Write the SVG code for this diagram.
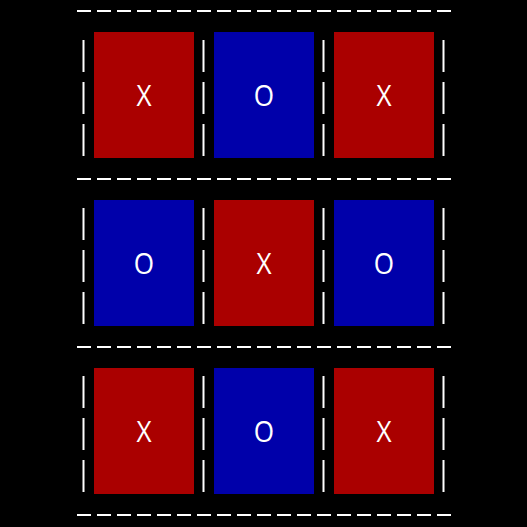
<svg xmlns="http://www.w3.org/2000/svg" width="527" height="527" viewBox="0 0 527 527">
<style>
.x{fill:#aa0000}
.o{fill:#0000aa}
.t{fill:#ffffff;font-family:"Open Sans","DejaVu Sans",sans-serif;font-size:30px;text-anchor:middle}
.h{stroke:#ffffff;stroke-width:2;stroke-dasharray:14 6;fill:none}
.v{stroke:#ffffff;stroke-width:2;stroke-dasharray:32 10;fill:none}
</style>
<rect width="527" height="527" fill="#000000"/>
<g id="grid">
<path class="h" d="M77 11H451M77 179H451M77 347H451M77 515H451"/>
<path class="v" d="M83.5 40V156M203.5 40V156M323.5 40V156M443.5 40V156M83.5 208V324M203.5 208V324M323.5 208V324M443.5 208V324M83.5 376V492M203.5 376V492M323.5 376V492M443.5 376V492"/>
</g>
<g id="c11"><rect class="x" x="94" y="32" width="100" height="126"/><text class="t" transform="translate(144 106) scale(0.87 1)">X</text></g>
<g id="c12"><rect class="o" x="214" y="32" width="100" height="126"/><text class="t" transform="translate(264 106) scale(0.87 1)">O</text></g>
<g id="c13"><rect class="x" x="334" y="32" width="100" height="126"/><text class="t" transform="translate(384 106) scale(0.87 1)">X</text></g>
<g id="c21"><rect class="o" x="94" y="200" width="100" height="126"/><text class="t" transform="translate(144 274) scale(0.87 1)">O</text></g>
<g id="c22"><rect class="x" x="214" y="200" width="100" height="126"/><text class="t" transform="translate(264 274) scale(0.87 1)">X</text></g>
<g id="c23"><rect class="o" x="334" y="200" width="100" height="126"/><text class="t" transform="translate(384 274) scale(0.87 1)">O</text></g>
<g id="c31"><rect class="x" x="94" y="368" width="100" height="126"/><text class="t" transform="translate(144 442) scale(0.87 1)">X</text></g>
<g id="c32"><rect class="o" x="214" y="368" width="100" height="126"/><text class="t" transform="translate(264 442) scale(0.87 1)">O</text></g>
<g id="c33"><rect class="x" x="334" y="368" width="100" height="126"/><text class="t" transform="translate(384 442) scale(0.87 1)">X</text></g>
</svg>
